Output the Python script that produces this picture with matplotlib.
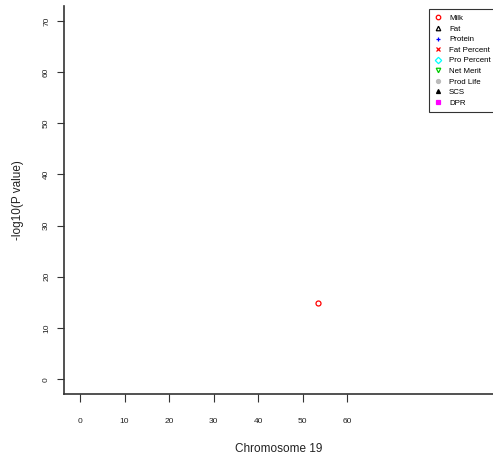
import matplotlib
matplotlib.use("Agg")
import matplotlib.pyplot as plt

plt.rcParams['font.family'] = ['Liberation Sans', 'DejaVu Sans']

# traits in legend order, with their markers
traits = ["Milk", "Fat", "Protein", "Fat Percent", "Pro Percent",
          "Net Merit", "Prod Life", "SCS", "DPR"]
markers = ["o", "^", "+", "x", "D", "v", "o", "^", "s"]
colors = ["red", "black", "blue", "red", "cyan", "#00cc00", "#bbbbbb", "black", "magenta"]
filled = [False, False, True, True, False, False, True, True, True]

# significant hits per trait (position in Mb, -log10 p)
positions = {"Milk": [53.5]}
pvalues = {"Milk": [14.8]}

xticks = [0, 10, 20, 30, 40, 50, 60]
yticks = [0, 10, 20, 30, 40, 50, 60, 70]

fig = plt.figure(figsize=(4.93, 4.63), dpi=100)
ax = fig.add_axes([64 / 493, 1 - 394 / 463, 1 - 64 / 493, (394 - 6) / 463])

for t, m, c, f in zip(traits, markers, colors, filled):
    xs = positions.get(t, [])
    ys = pvalues.get(t, [])
    if f:
        ax.plot(xs, ys, linestyle="none", marker=m, color=c, markersize=3.2,
                markeredgewidth=0.9, label=t)
    else:
        ax.plot(xs, ys, linestyle="none", marker=m, markerfacecolor="none",
                markeredgecolor=c, markersize=3.6, markeredgewidth=0.9, label=t)

ax.set_xlim(-3.6, 92.8)
ax.set_ylim(-2.9, 72.9)
ax.set_xticks(xticks)
ax.set_yticks(yticks)
ax.spines["top"].set_visible(False)
ax.spines["right"].set_visible(False)
for s in ["left", "bottom"]:
    ax.spines[s].set_color("#333333")
    ax.spines[s].set_linewidth(1.2)
ax.tick_params(axis="x", length=6, width=0.8, color="#333333", pad=11,
               labelsize=6, labelcolor="#222222")
ax.tick_params(axis="y", length=5, width=0.8, color="#333333", pad=5,
               labelsize=6, labelcolor="#222222", labelrotation=90)
for lab in ax.get_yticklabels():
    lab.set_verticalalignment("center")

ax.set_xlabel("Chromosome 19", fontsize=8.5, labelpad=13, color="#222222")
ax.set_ylabel("-log10(P value)", fontsize=8.5, labelpad=14, color="#222222")

leg = ax.legend(loc="upper left", bbox_to_anchor=(0.842, 1.002), fontsize=5.7,
                handlelength=0.9, handletextpad=0.9, borderpad=0.7,
                labelspacing=0.38, frameon=True, fancybox=False,
                markerscale=0.9)
leg.get_frame().set_edgecolor("black")
leg.get_frame().set_linewidth(0.8)

fig.savefig("out.png", dpi=100)
